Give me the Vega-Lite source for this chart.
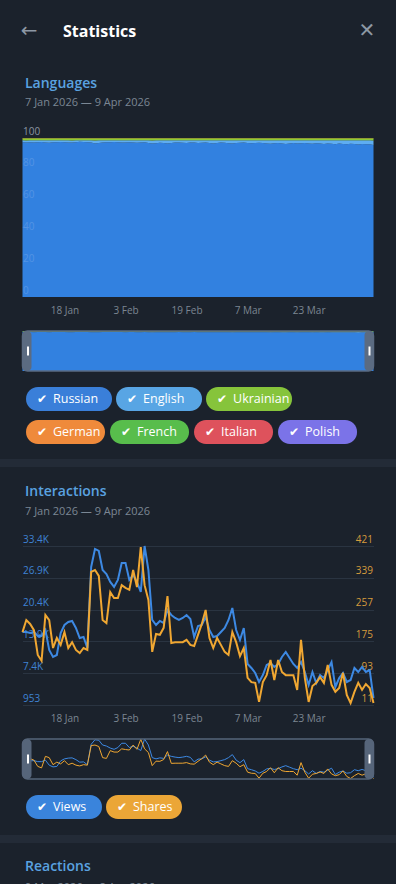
{
"$schema": "https://vega.github.io/schema/vega-lite/v6.json",
"background": "#1b222c",
"padding": 0,
"spacing": 0,
"bounds": "flush",
"center": true,
"resolve": {"scale": {"color": "independent"}},
"config": {"view": {"stroke": null}, "font": "Open Sans"},
"datasets": {
"langorder": [{"lang":"Russian","rank":1},{"lang":"English","rank":2},{"lang":"Ukrainian","rank":3},{"lang":"German","rank":4},{"lang":"French","rank":5},{"lang":"Italian","rank":6},{"lang":"Polish","rank":7}],
"langs": [
{"d":"2026-01-07","Russian":97.2,"English":1.2,"Ukrainian":1.3,"German":0.04,"French":0.03,"Italian":0.02,"Polish":0.01},
{"d":"2026-01-08","Russian":97.0,"English":1.4,"Ukrainian":1.4,"German":0.04,"French":0.03,"Italian":0.02,"Polish":0.01},
{"d":"2026-01-09","Russian":97.1,"English":1.3,"Ukrainian":1.3,"German":0.04,"French":0.03,"Italian":0.02,"Polish":0.01},
{"d":"2026-01-10","Russian":96.9,"English":1.5,"Ukrainian":1.3,"German":0.04,"French":0.03,"Italian":0.02,"Polish":0.01},
{"d":"2026-01-11","Russian":97.2,"English":1.2,"Ukrainian":1.3,"German":0.04,"French":0.03,"Italian":0.02,"Polish":0.01},
{"d":"2026-01-12","Russian":97.3,"English":1.1,"Ukrainian":1.3,"German":0.04,"French":0.03,"Italian":0.02,"Polish":0.01},
{"d":"2026-01-13","Russian":97.0,"English":1.4,"Ukrainian":1.3,"German":0.04,"French":0.03,"Italian":0.02,"Polish":0.01},
{"d":"2026-01-14","Russian":96.8,"English":1.6,"Ukrainian":1.3,"German":0.04,"French":0.03,"Italian":0.02,"Polish":0.01},
{"d":"2026-01-15","Russian":97.1,"English":1.3,"Ukrainian":1.3,"German":0.04,"French":0.03,"Italian":0.02,"Polish":0.01},
{"d":"2026-01-16","Russian":97.2,"English":1.2,"Ukrainian":1.3,"German":0.04,"French":0.03,"Italian":0.02,"Polish":0.01},
{"d":"2026-01-17","Russian":97.3,"English":1.1,"Ukrainian":1.3,"German":0.04,"French":0.03,"Italian":0.02,"Polish":0.01},
{"d":"2026-01-18","Russian":97.1,"English":1.3,"Ukrainian":1.3,"German":0.04,"French":0.03,"Italian":0.02,"Polish":0.01},
{"d":"2026-01-19","Russian":96.9,"English":1.5,"Ukrainian":1.3,"German":0.04,"French":0.03,"Italian":0.02,"Polish":0.01},
{"d":"2026-01-20","Russian":97.0,"English":1.4,"Ukrainian":1.4,"German":0.04,"French":0.03,"Italian":0.02,"Polish":0.01},
{"d":"2026-01-21","Russian":97.2,"English":1.2,"Ukrainian":1.3,"German":0.04,"French":0.03,"Italian":0.02,"Polish":0.01},
{"d":"2026-01-22","Russian":97.4,"English":1.0,"Ukrainian":1.3,"German":0.04,"French":0.03,"Italian":0.02,"Polish":0.01},
{"d":"2026-01-23","Russian":97.3,"English":1.1,"Ukrainian":1.3,"German":0.04,"French":0.03,"Italian":0.02,"Polish":0.01},
{"d":"2026-01-24","Russian":97.1,"English":1.3,"Ukrainian":1.3,"German":0.04,"French":0.03,"Italian":0.02,"Polish":0.01},
{"d":"2026-01-25","Russian":96.9,"English":1.5,"Ukrainian":1.3,"German":0.04,"French":0.03,"Italian":0.02,"Polish":0.01},
{"d":"2026-01-26","Russian":96.4,"English":1.9,"Ukrainian":1.4,"German":0.04,"French":0.03,"Italian":0.02,"Polish":0.01},
{"d":"2026-01-27","Russian":96.6,"English":1.8,"Ukrainian":1.3,"German":0.04,"French":0.03,"Italian":0.02,"Polish":0.01},
{"d":"2026-01-28","Russian":97.0,"English":1.4,"Ukrainian":1.3,"German":0.04,"French":0.03,"Italian":0.02,"Polish":0.01},
{"d":"2026-01-29","Russian":97.2,"English":1.2,"Ukrainian":1.3,"German":0.04,"French":0.03,"Italian":0.02,"Polish":0.01},
{"d":"2026-01-30","Russian":97.1,"English":1.3,"Ukrainian":1.3,"German":0.04,"French":0.03,"Italian":0.02,"Polish":0.01},
{"d":"2026-01-31","Russian":97.3,"English":1.1,"Ukrainian":1.3,"German":0.04,"French":0.03,"Italian":0.02,"Polish":0.01},
{"d":"2026-02-01","Russian":97.2,"English":1.2,"Ukrainian":1.3,"German":0.04,"French":0.03,"Italian":0.02,"Polish":0.01},
{"d":"2026-02-02","Russian":97.0,"English":1.4,"Ukrainian":1.3,"German":0.04,"French":0.03,"Italian":0.02,"Polish":0.01},
{"d":"2026-02-03","Russian":96.9,"English":1.5,"Ukrainian":1.3,"German":0.04,"French":0.03,"Italian":0.02,"Polish":0.01},
{"d":"2026-02-04","Russian":97.1,"English":1.3,"Ukrainian":1.3,"German":0.04,"French":0.03,"Italian":0.02,"Polish":0.01},
{"d":"2026-02-05","Russian":97.0,"English":1.4,"Ukrainian":1.3,"German":0.04,"French":0.03,"Italian":0.02,"Polish":0.01},
{"d":"2026-02-06","Russian":96.8,"English":1.6,"Ukrainian":1.3,"German":0.04,"French":0.03,"Italian":0.02,"Polish":0.01},
{"d":"2026-02-07","Russian":96.9,"English":1.5,"Ukrainian":1.3,"German":0.04,"French":0.03,"Italian":0.02,"Polish":0.01},
{"d":"2026-02-08","Russian":97.1,"English":1.3,"Ukrainian":1.3,"German":0.04,"French":0.03,"Italian":0.02,"Polish":0.01},
{"d":"2026-02-09","Russian":96.6,"English":1.8,"Ukrainian":1.3,"German":0.04,"French":0.03,"Italian":0.02,"Polish":0.01},
{"d":"2026-02-10","Russian":96.3,"English":2.0,"Ukrainian":1.4,"German":0.04,"French":0.03,"Italian":0.02,"Polish":0.01},
{"d":"2026-02-11","Russian":96.5,"English":1.9,"Ukrainian":1.3,"German":0.04,"French":0.03,"Italian":0.02,"Polish":0.01},
{"d":"2026-02-12","Russian":96.8,"English":1.6,"Ukrainian":1.3,"German":0.04,"French":0.03,"Italian":0.02,"Polish":0.01},
{"d":"2026-02-13","Russian":96.7,"English":1.7,"Ukrainian":1.3,"German":0.04,"French":0.03,"Italian":0.02,"Polish":0.01},
{"d":"2026-02-14","Russian":96.4,"English":2.0,"Ukrainian":1.3,"German":0.04,"French":0.03,"Italian":0.02,"Polish":0.01},
{"d":"2026-02-15","Russian":96.6,"English":1.8,"Ukrainian":1.3,"German":0.04,"French":0.03,"Italian":0.02,"Polish":0.01},
{"d":"2026-02-16","Russian":96.9,"English":1.5,"Ukrainian":1.3,"German":0.04,"French":0.03,"Italian":0.02,"Polish":0.01},
{"d":"2026-02-17","Russian":97.0,"English":1.4,"Ukrainian":1.3,"German":0.04,"French":0.03,"Italian":0.02,"Polish":0.01},
{"d":"2026-02-18","Russian":96.8,"English":1.6,"Ukrainian":1.3,"German":0.04,"French":0.03,"Italian":0.02,"Polish":0.01},
{"d":"2026-02-19","Russian":96.7,"English":1.7,"Ukrainian":1.3,"German":0.04,"French":0.03,"Italian":0.02,"Polish":0.01},
{"d":"2026-02-20","Russian":96.9,"English":1.5,"Ukrainian":1.3,"German":0.04,"French":0.03,"Italian":0.02,"Polish":0.01},
{"d":"2026-02-21","Russian":97.0,"English":1.4,"Ukrainian":1.3,"German":0.04,"French":0.03,"Italian":0.02,"Polish":0.01},
{"d":"2026-02-22","Russian":96.6,"English":1.8,"Ukrainian":1.3,"German":0.04,"French":0.03,"Italian":0.02,"Polish":0.01},
{"d":"2026-02-23","Russian":96.8,"English":1.6,"Ukrainian":1.3,"German":0.04,"French":0.03,"Italian":0.02,"Polish":0.01},
{"d":"2026-02-24","Russian":96.9,"English":1.5,"Ukrainian":1.3,"German":0.04,"French":0.03,"Italian":0.02,"Polish":0.01},
{"d":"2026-02-25","Russian":96.6,"English":1.8,"Ukrainian":1.3,"German":0.04,"French":0.03,"Italian":0.02,"Polish":0.01},
{"d":"2026-02-26","Russian":96.4,"English":2.0,"Ukrainian":1.3,"German":0.04,"French":0.03,"Italian":0.02,"Polish":0.01},
{"d":"2026-02-27","Russian":96.7,"English":1.7,"Ukrainian":1.3,"German":0.04,"French":0.03,"Italian":0.02,"Polish":0.01},
{"d":"2026-02-28","Russian":96.9,"English":1.5,"Ukrainian":1.3,"German":0.04,"French":0.03,"Italian":0.02,"Polish":0.01},
{"d":"2026-03-01","Russian":96.8,"English":1.6,"Ukrainian":1.3,"German":0.04,"French":0.03,"Italian":0.02,"Polish":0.01},
{"d":"2026-03-02","Russian":96.5,"English":1.9,"Ukrainian":1.3,"German":0.04,"French":0.03,"Italian":0.02,"Polish":0.01},
{"d":"2026-03-03","Russian":96.3,"English":2.1,"Ukrainian":1.3,"German":0.04,"French":0.03,"Italian":0.02,"Polish":0.01},
{"d":"2026-03-04","Russian":96.6,"English":1.8,"Ukrainian":1.3,"German":0.04,"French":0.03,"Italian":0.02,"Polish":0.01},
{"d":"2026-03-05","Russian":96.8,"English":1.6,"Ukrainian":1.3,"German":0.04,"French":0.03,"Italian":0.02,"Polish":0.01},
{"d":"2026-03-06","Russian":96.9,"English":1.5,"Ukrainian":1.3,"German":0.04,"French":0.03,"Italian":0.02,"Polish":0.01},
{"d":"2026-03-07","Russian":96.6,"English":1.8,"Ukrainian":1.3,"German":0.04,"French":0.03,"Italian":0.02,"Polish":0.01},
{"d":"2026-03-08","Russian":96.5,"English":1.9,"Ukrainian":1.3,"German":0.04,"French":0.03,"Italian":0.02,"Polish":0.01},
{"d":"2026-03-09","Russian":96.7,"English":1.7,"Ukrainian":1.3,"German":0.04,"French":0.03,"Italian":0.02,"Polish":0.01},
{"d":"2026-03-10","Russian":96.8,"English":1.6,"Ukrainian":1.3,"German":0.04,"French":0.03,"Italian":0.02,"Polish":0.01},
{"d":"2026-03-11","Russian":96.6,"English":1.8,"Ukrainian":1.3,"German":0.04,"French":0.03,"Italian":0.02,"Polish":0.01},
{"d":"2026-03-12","Russian":96.4,"English":2.0,"Ukrainian":1.3,"German":0.04,"French":0.03,"Italian":0.02,"Polish":0.01},
{"d":"2026-03-13","Russian":96.2,"English":2.2,"Ukrainian":1.3,"German":0.04,"French":0.03,"Italian":0.02,"Polish":0.01},
{"d":"2026-03-14","Russian":96.5,"English":1.9,"Ukrainian":1.3,"German":0.04,"French":0.03,"Italian":0.02,"Polish":0.01},
{"d":"2026-03-15","Russian":96.7,"English":1.7,"Ukrainian":1.3,"German":0.04,"French":0.03,"Italian":0.02,"Polish":0.01},
{"d":"2026-03-16","Russian":96.3,"English":2.1,"Ukrainian":1.3,"German":0.04,"French":0.03,"Italian":0.02,"Polish":0.01},
{"d":"2026-03-17","Russian":96.1,"English":2.3,"Ukrainian":1.3,"German":0.04,"French":0.03,"Italian":0.02,"Polish":0.01},
{"d":"2026-03-18","Russian":96.4,"English":2.0,"Ukrainian":1.3,"German":0.04,"French":0.03,"Italian":0.02,"Polish":0.01},
{"d":"2026-03-19","Russian":96.6,"English":1.8,"Ukrainian":1.3,"German":0.04,"French":0.03,"Italian":0.02,"Polish":0.01},
{"d":"2026-03-20","Russian":96.3,"English":2.1,"Ukrainian":1.3,"German":0.04,"French":0.03,"Italian":0.02,"Polish":0.01},
{"d":"2026-03-21","Russian":96.5,"English":1.9,"Ukrainian":1.3,"German":0.04,"French":0.03,"Italian":0.02,"Polish":0.01},
{"d":"2026-03-22","Russian":96.7,"English":1.7,"Ukrainian":1.3,"German":0.04,"French":0.03,"Italian":0.02,"Polish":0.01},
{"d":"2026-03-23","Russian":96.4,"English":2.0,"Ukrainian":1.3,"German":0.04,"French":0.03,"Italian":0.02,"Polish":0.01},
{"d":"2026-03-24","Russian":96.2,"English":2.2,"Ukrainian":1.3,"German":0.04,"French":0.03,"Italian":0.02,"Polish":0.01},
{"d":"2026-03-25","Russian":96.5,"English":1.9,"Ukrainian":1.3,"German":0.04,"French":0.03,"Italian":0.02,"Polish":0.01},
{"d":"2026-03-26","Russian":96.3,"English":2.1,"Ukrainian":1.3,"German":0.04,"French":0.03,"Italian":0.02,"Polish":0.01},
{"d":"2026-03-27","Russian":96.0,"English":2.4,"Ukrainian":1.3,"German":0.04,"French":0.03,"Italian":0.02,"Polish":0.01},
{"d":"2026-03-28","Russian":96.4,"English":2.0,"Ukrainian":1.3,"German":0.04,"French":0.03,"Italian":0.02,"Polish":0.01},
{"d":"2026-03-29","Russian":96.2,"English":2.2,"Ukrainian":1.3,"German":0.04,"French":0.03,"Italian":0.02,"Polish":0.01},
{"d":"2026-03-30","Russian":95.9,"English":2.5,"Ukrainian":1.3,"German":0.04,"French":0.03,"Italian":0.02,"Polish":0.01},
{"d":"2026-03-31","Russian":96.3,"English":2.1,"Ukrainian":1.3,"German":0.04,"French":0.03,"Italian":0.02,"Polish":0.01},
{"d":"2026-04-01","Russian":96.1,"English":2.3,"Ukrainian":1.3,"German":0.04,"French":0.03,"Italian":0.02,"Polish":0.01},
{"d":"2026-04-02","Russian":95.8,"English":2.6,"Ukrainian":1.3,"German":0.04,"French":0.03,"Italian":0.02,"Polish":0.01},
{"d":"2026-04-03","Russian":96.2,"English":2.2,"Ukrainian":1.3,"German":0.04,"French":0.03,"Italian":0.02,"Polish":0.01},
{"d":"2026-04-04","Russian":96.0,"English":2.4,"Ukrainian":1.3,"German":0.04,"French":0.03,"Italian":0.02,"Polish":0.01},
{"d":"2026-04-05","Russian":95.7,"English":2.7,"Ukrainian":1.3,"German":0.04,"French":0.03,"Italian":0.02,"Polish":0.01},
{"d":"2026-04-06","Russian":96.1,"English":2.3,"Ukrainian":1.3,"German":0.04,"French":0.03,"Italian":0.02,"Polish":0.01},
{"d":"2026-04-07","Russian":95.9,"English":2.5,"Ukrainian":1.3,"German":0.04,"French":0.03,"Italian":0.02,"Polish":0.01},
{"d":"2026-04-08","Russian":95.8,"English":2.6,"Ukrainian":1.3,"German":0.04,"French":0.03,"Italian":0.02,"Polish":0.01},
{"d":"2026-04-09","Russian":95.4,"English":2.9,"Ukrainian":1.4,"German":0.04,"French":0.03,"Italian":0.02,"Polish":0.01}
],
"inter": [
{"d":"2026-01-07","views":15852,"shares":199},
{"d":"2026-01-08","views":15852,"shares":230},
{"d":"2026-01-09","views":15648,"shares":220},
{"d":"2026-01-10","views":15852,"shares":204},
{"d":"2026-01-11","views":15036,"shares":140},
{"d":"2026-01-12","views":15036,"shares":125},
{"d":"2026-01-13","views":16261,"shares":243},
{"d":"2026-01-14","views":12180,"shares":230},
{"d":"2026-01-15","views":10750,"shares":158},
{"d":"2026-01-16","views":11158,"shares":184},
{"d":"2026-01-17","views":15648,"shares":166},
{"d":"2026-01-18","views":17281,"shares":199},
{"d":"2026-01-19","views":17893,"shares":158},
{"d":"2026-01-20","views":18097,"shares":173},
{"d":"2026-01-21","views":16669,"shares":153},
{"d":"2026-01-22","views":14628,"shares":145},
{"d":"2026-01-23","views":14832,"shares":158},
{"d":"2026-01-24","views":12587,"shares":153},
{"d":"2026-01-25","views":29119,"shares":354},
{"d":"2026-01-26","views":32793,"shares":359},
{"d":"2026-01-27","views":32384,"shares":344},
{"d":"2026-01-28","views":28507,"shares":230},
{"d":"2026-01-29","views":27690,"shares":222},
{"d":"2026-01-30","views":26057,"shares":302},
{"d":"2026-01-31","views":25037,"shares":287},
{"d":"2026-02-01","views":26466,"shares":287},
{"d":"2026-02-02","views":29935,"shares":320},
{"d":"2026-02-03","views":29935,"shares":313},
{"d":"2026-02-04","views":26466,"shares":308},
{"d":"2026-02-05","views":27486,"shares":359},
{"d":"2026-02-06","views":26057,"shares":315},
{"d":"2026-02-07","views":24016,"shares":418},
{"d":"2026-02-08","views":33398,"shares":320},
{"d":"2026-02-09","views":28507,"shares":282},
{"d":"2026-02-10","views":18302,"shares":148},
{"d":"2026-02-11","views":17281,"shares":194},
{"d":"2026-02-12","views":18097,"shares":192},
{"d":"2026-02-13","views":17689,"shares":210},
{"d":"2026-02-14","views":20343,"shares":292},
{"d":"2026-02-15","views":19322,"shares":171},
{"d":"2026-02-16","views":18710,"shares":173},
{"d":"2026-02-17","views":18302,"shares":173},
{"d":"2026-02-18","views":18710,"shares":173},
{"d":"2026-02-19","views":19322,"shares":179},
{"d":"2026-02-20","views":18506,"shares":166},
{"d":"2026-02-21","views":14832,"shares":163},
{"d":"2026-02-22","views":17077,"shares":192},
{"d":"2026-02-23","views":17281,"shares":220},
{"d":"2026-02-24","views":18914,"shares":256},
{"d":"2026-02-25","views":16261,"shares":184},
{"d":"2026-02-26","views":14832,"shares":158},
{"d":"2026-02-27","views":15036,"shares":184},
{"d":"2026-02-28","views":15852,"shares":166},
{"d":"2026-03-01","views":16669,"shares":148},
{"d":"2026-03-02","views":18302,"shares":140},
{"d":"2026-03-03","views":20751,"shares":199},
{"d":"2026-03-04","views":16261,"shares":173},
{"d":"2026-03-05","views":14220,"shares":137},
{"d":"2026-03-06","views":16669,"shares":158},
{"d":"2026-03-07","views":9321,"shares":81},
{"d":"2026-03-08","views":8505,"shares":70},
{"d":"2026-03-09","views":7484,"shares":68},
{"d":"2026-03-10","views":5647,"shares":19},
{"d":"2026-03-11","views":7076,"shares":70},
{"d":"2026-03-12","views":9117,"shares":88},
{"d":"2026-03-13","views":9525,"shares":127},
{"d":"2026-03-14","views":8709,"shares":75},
{"d":"2026-03-15","views":9321,"shares":127},
{"d":"2026-03-16","views":10750,"shares":96},
{"d":"2026-03-17","views":11770,"shares":88},
{"d":"2026-03-18","views":10546,"shares":88},
{"d":"2026-03-19","views":9321,"shares":88},
{"d":"2026-03-20","views":8505,"shares":50},
{"d":"2026-03-21","views":9729,"shares":179},
{"d":"2026-03-22","views":7688,"shares":81},
{"d":"2026-03-23","views":5035,"shares":19},
{"d":"2026-03-24","views":7688,"shares":60},
{"d":"2026-03-25","views":5443,"shares":68},
{"d":"2026-03-26","views":7076,"shares":83},
{"d":"2026-03-27","views":6464,"shares":68},
{"d":"2026-03-28","views":8097,"shares":114},
{"d":"2026-03-29","views":9729,"shares":63},
{"d":"2026-03-30","views":4627,"shares":45},
{"d":"2026-03-31","views":6464,"shares":55},
{"d":"2026-04-01","views":7484,"shares":94},
{"d":"2026-04-02","views":5647,"shares":37},
{"d":"2026-04-03","views":6056,"shares":16},
{"d":"2026-04-04","views":8505,"shares":45},
{"d":"2026-04-05","views":7688,"shares":68},
{"d":"2026-04-06","views":8709,"shares":50},
{"d":"2026-04-07","views":7688,"shares":65},
{"d":"2026-04-08","views":8097,"shares":55},
{"d":"2026-04-09","views":2382,"shares":16}
]
},
"vconcat": [
{"width": 396, "height": 62,
 "title": {"text": "Statistics", "anchor": "start", "frame": "group", "dx": 63, "offset": -40, "fontSize": 16, "fontWeight": "bold", "color": "#ffffff"},
 "data": {"values": [{"icon": "back", "glyph": "←"}, {"icon": "close", "glyph": "✕"}]},
 "mark": {"type": "text", "color": "#8d98a4", "fontSize": 20, "font": "DejaVu Sans"},
 "encoding": {"x": {"field": "icon", "type": "nominal", "scale": {"type": "point", "domain": ["back", "close"], "padding": 0.0858}, "axis": null}, "text": {"field": "glyph"}}},
{"width": 351, "height": 76,
 "title": {"text": "Languages", "subtitle": "7 Jan 2026 — 9 Apr 2026", "anchor": "start", "frame": "group", "dx": 2.5, "offset": -46, "fontSize": 14, "fontWeight": 600, "color": "#5aa2e0", "subtitleFontSize": 11, "subtitleColor": "#7b8794", "subtitlePadding": 6},
 "data": {"values": []}, "mark": "rule", "encoding": {}},
{"width": 351, "height": 159,
 "data": {"name": "langs"},
 "transform": [{"fold": ["Russian", "English", "Ukrainian", "German", "French", "Italian", "Polish"], "as": ["lang", "share"]},
               {"lookup": "lang", "from": {"data": {"name": "langorder"}, "key": "lang", "fields": ["rank"]}}],
 "mark": {"type": "area"},
 "encoding": {
  "x": {"field": "d", "type": "temporal", "scale": {"type": "utc", "nice": false, "domain": [{"year": 2026, "month": 1, "date": 7, "utc": true}, {"year": 2026, "month": 4, "date": 9, "utc": true}]},
        "axis": {"values": [{"year": 2026, "month": 1, "date": 18, "utc": true}, {"year": 2026, "month": 2, "date": 3, "utc": true}, {"year": 2026, "month": 2, "date": 19, "utc": true}, {"year": 2026, "month": 3, "date": 7, "utc": true}, {"year": 2026, "month": 3, "date": 23, "utc": true}], "format": "%-d %b", "domain": false, "ticks": false, "grid": false, "labelPadding": 8, "labelColor": "#7b8692", "labelFontSize": 10, "title": null, "labelFlush": false}},
  "y": {"field": "share", "type": "quantitative", "stack": "normalize", "scale": {"domain": [0, 1], "nice": false},
        "axis": {"values": [0, 0.2, 0.4, 0.6, 0.8, 1], "labelExpr": "format(datum.value*100,'d')", "domain": false, "ticks": false, "grid": false, "labelAlign": "left", "labelPadding": 0, "labelBaseline": "alphabetic", "labelOffset": -4, "labelFontSize": 10, "labelColor": {"condition": {"test": "datum.value > 0.99", "value": "#8a95a1"}, "value": "#5294e4"}, "title": null, "zindex": 1, "labelFlush": false}},
  "order": {"field": "rank", "type": "quantitative"},
  "color": {"field": "lang", "type": "nominal", "scale": {"domain": ["Russian", "English", "Ukrainian", "German", "French", "Italian", "Polish"], "range": ["#3281e0", "#5eadf2", "#8ccb35", "#f28c38", "#5cc24d", "#e2525c", "#7e72ec"]}, "legend": null}
 }},
{"width": 1, "height": 34, "data": {"values": []}, "mark": "rule", "encoding": {}},
{"width": 351, "height": 40,
 "layer": [
  {"data": {"name": "langs"},
   "transform": [{"fold": ["Russian", "English", "Ukrainian", "German", "French", "Italian", "Polish"], "as": ["lang", "share"]},
                 {"lookup": "lang", "from": {"data": {"name": "langorder"}, "key": "lang", "fields": ["rank"]}}],
   "mark": {"type": "area"},
   "encoding": {
    "x": {"field": "d", "type": "temporal", "scale": {"type": "utc", "nice": false, "domain": [{"year": 2026, "month": 1, "date": 7, "utc": true}, {"year": 2026, "month": 4, "date": 9, "utc": true}]}, "axis": null},
    "y": {"field": "share", "type": "quantitative", "stack": "normalize", "scale": {"domain": [0, 1], "nice": false}, "axis": null},
    "order": {"field": "rank", "type": "quantitative"},
    "color": {"field": "lang", "type": "nominal", "scale": {"domain": ["Russian", "English", "Ukrainian", "German", "French", "Italian", "Polish"], "range": ["#3281e0", "#5eadf2", "#8ccb35", "#f28c38", "#5cc24d", "#e2525c", "#7e72ec"]}, "legend": null}}},
  {"data": {"values": [{"from": "2026-01-07", "to": "2026-04-09"}]},
   "mark": {"type": "rect", "fillOpacity": 0, "stroke": "#5b6b81", "strokeWidth": 1.5, "cornerRadius": 5},
   "encoding": {"x": {"field": "from", "type": "temporal"}, "x2": {"field": "to"}}},
  {"data": {"values": [{"from": "2026-01-07", "to": "2026-04-09"}]},
   "mark": {"type": "tick", "color": "#5b6b81", "thickness": 9, "size": 40, "xOffset": 4.5, "cornerRadius": 4, "opacity": 1},
   "encoding": {"x": {"field": "from", "type": "temporal"}}},
  {"data": {"values": [{"from": "2026-01-07", "to": "2026-04-09"}]},
   "mark": {"type": "tick", "color": "#5b6b81", "thickness": 9, "size": 40, "xOffset": -4.5, "cornerRadius": 4, "opacity": 1},
   "encoding": {"x": {"field": "to", "type": "temporal"}}},
  {"data": {"values": [{"from": "2026-01-07", "to": "2026-04-09"}]},
   "mark": {"type": "tick", "color": "#ffffff", "thickness": 2, "size": 9, "xOffset": 5.5, "opacity": 1},
   "encoding": {"x": {"field": "from", "type": "temporal"}}},
  {"data": {"values": [{"from": "2026-01-07", "to": "2026-04-09"}]},
   "mark": {"type": "tick", "color": "#ffffff", "thickness": 2, "size": 9, "xOffset": -4, "opacity": 1},
   "encoding": {"x": {"field": "to", "type": "temporal"}}}
 ]},
{"width": 1, "height": 16, "data": {"values": []}, "mark": "rule", "encoding": {}},
{"width": 344, "height": 24,
 "data": {"values": [{"lang": "Russian"}, {"lang": "English"}, {"lang": "Ukrainian"}]},
 "layer": [
  {"mark": {"type": "rect", "cornerRadius": 12},
   "encoding": {"x": {"field": "lang", "type": "nominal", "scale": {"type": "band", "domain": ["Russian", "English", "Ukrainian"], "paddingInner": 0.0444, "paddingOuter": 0.433, "align": 0}, "axis": null},
                "color": {"field": "lang", "type": "nominal", "scale": {"domain": ["Russian", "English", "Ukrainian", "German", "French", "Italian", "Polish"], "range": ["#3a7fd9", "#58a5e4", "#86c43b", "#ef8a3b", "#58bd4c", "#de525c", "#7b73e8"]}, "legend": null}}},
  {"mark": {"type": "text", "text": "✔", "align": "left", "dx": 11, "fontSize": 12, "color": "#ffffff", "font": "DejaVu Sans"},
   "encoding": {"x": {"field": "lang", "type": "nominal", "bandPosition": 0, "scale": {"type": "band", "domain": ["Russian", "English", "Ukrainian"], "paddingInner": 0.0444, "paddingOuter": 0.433, "align": 0}, "axis": null}}},
  {"mark": {"type": "text", "align": "left", "dx": 27, "fontSize": 12.5, "color": "#ffffff"},
   "encoding": {"x": {"field": "lang", "type": "nominal", "bandPosition": 0, "scale": {"type": "band", "domain": ["Russian", "English", "Ukrainian"], "paddingInner": 0.0444, "paddingOuter": 0.433, "align": 0}, "axis": null}, "text": {"field": "lang"}}}
 ]},
{"width": 1, "height": 9, "data": {"values": []}, "mark": "rule", "encoding": {}},
{"width": 344, "height": 24,
 "data": {"values": [{"lang": "German"}, {"lang": "French"}, {"lang": "Italian"}, {"lang": "Polish"}]},
 "layer": [
  {"mark": {"type": "rect", "cornerRadius": 12},
   "encoding": {"x": {"field": "lang", "type": "nominal", "scale": {"type": "band", "domain": ["German", "French", "Italian", "Polish"], "paddingInner": 0.0595, "paddingOuter": 0.077, "align": 0}, "axis": null},
                "color": {"field": "lang", "type": "nominal", "scale": {"domain": ["Russian", "English", "Ukrainian", "German", "French", "Italian", "Polish"], "range": ["#3a7fd9", "#58a5e4", "#86c43b", "#ef8a3b", "#58bd4c", "#de525c", "#7b73e8"]}, "legend": null}}},
  {"mark": {"type": "text", "text": "✔", "align": "left", "dx": 11, "fontSize": 12, "color": "#ffffff", "font": "DejaVu Sans"},
   "encoding": {"x": {"field": "lang", "type": "nominal", "bandPosition": 0, "scale": {"type": "band", "domain": ["German", "French", "Italian", "Polish"], "paddingInner": 0.0595, "paddingOuter": 0.077, "align": 0}, "axis": null}}},
  {"mark": {"type": "text", "align": "left", "dx": 27, "fontSize": 12.5, "color": "#ffffff"},
   "encoding": {"x": {"field": "lang", "type": "nominal", "bandPosition": 0, "scale": {"type": "band", "domain": ["German", "French", "Italian", "Polish"], "paddingInner": 0.0595, "paddingOuter": 0.077, "align": 0}, "axis": null}, "text": {"field": "lang"}}}
 ]},
{"width": 1, "height": 15, "data": {"values": []}, "mark": "rule", "encoding": {}},
{"width": 396, "height": 8, "view": {"fill": "#232b37", "stroke": null}, "data": {"values": []}, "mark": "rule", "encoding": {}},
{"width": 351, "height": 79,
 "title": {"text": "Interactions", "subtitle": "7 Jan 2026 — 9 Apr 2026", "anchor": "start", "frame": "group", "dx": 2.5, "offset": -50, "fontSize": 14, "fontWeight": 600, "color": "#5aa2e0", "subtitleFontSize": 11, "subtitleColor": "#7b8794", "subtitlePadding": 7},
 "data": {"values": []}, "mark": "rule", "encoding": {}},
{"width": 351, "height": 159,
 "data": {"name": "inter"},
 "layer": [
  {"mark": {"type": "line", "color": "#3d89e3", "strokeWidth": 2},
   "encoding": {
    "x": {"field": "d", "type": "temporal", "scale": {"type": "utc", "nice": false, "domain": [{"year": 2026, "month": 1, "date": 7, "utc": true}, {"year": 2026, "month": 4, "date": 9, "utc": true}]},
          "axis": {"values": [{"year": 2026, "month": 1, "date": 18, "utc": true}, {"year": 2026, "month": 2, "date": 3, "utc": true}, {"year": 2026, "month": 2, "date": 19, "utc": true}, {"year": 2026, "month": 3, "date": 7, "utc": true}, {"year": 2026, "month": 3, "date": 23, "utc": true}], "format": "%-d %b", "domain": false, "ticks": false, "grid": false, "labelPadding": 8, "labelColor": "#7b8692", "labelFontSize": 10, "title": null, "labelFlush": false}},
    "y": {"field": "views", "type": "quantitative", "scale": {"domain": [953, 33398], "nice": false, "zero": false},
          "axis": {"orient": "left", "values": [953, 7442, 13931, 20420, 26909, 33398], "labelExpr": "datum.value < 1000 ? format(datum.value,'d') : format(datum.value/1000,'.1f') + 'K'", "domain": false, "ticks": false, "grid": true, "gridColor": "#2a3441", "gridWidth": 1, "labelAlign": "left", "labelPadding": 0, "labelBaseline": "alphabetic", "labelOffset": -4, "labelFontSize": 10, "labelColor": "#3f82d4", "title": null, "labelFlush": false}}}},
  {"mark": {"type": "line", "color": "#f0a732", "strokeWidth": 2},
   "encoding": {
    "x": {"field": "d", "type": "temporal", "scale": {"type": "utc", "nice": false, "domain": [{"year": 2026, "month": 1, "date": 7, "utc": true}, {"year": 2026, "month": 4, "date": 9, "utc": true}]},
          "axis": {"values": [{"year": 2026, "month": 1, "date": 18, "utc": true}, {"year": 2026, "month": 2, "date": 3, "utc": true}, {"year": 2026, "month": 2, "date": 19, "utc": true}, {"year": 2026, "month": 3, "date": 7, "utc": true}, {"year": 2026, "month": 3, "date": 23, "utc": true}], "format": "%-d %b", "domain": false, "ticks": false, "grid": false, "labelPadding": 8, "labelColor": "#7b8692", "labelFontSize": 10, "title": null, "labelFlush": false}},
    "y": {"field": "shares", "type": "quantitative", "scale": {"domain": [11, 421], "nice": false, "zero": false},
          "axis": {"orient": "right", "values": [11, 93, 175, 257, 339, 421], "domain": false, "ticks": false, "grid": false, "labelAlign": "right", "labelPadding": -1, "labelBaseline": "alphabetic", "labelOffset": -4, "labelFontSize": 10, "labelColor": "#d69c3c", "title": null, "labelFlush": false}}}}
 ],
 "resolve": {"scale": {"y": "independent"}}},
{"width": 1, "height": 34, "data": {"values": []}, "mark": "rule", "encoding": {}},
{"width": 351, "height": 40,
 "layer": [
  {"data": {"name": "inter"}, "mark": {"type": "line", "color": "#3d89e3", "strokeWidth": 1},
   "encoding": {"x": {"field": "d", "type": "temporal", "scale": {"type": "utc", "nice": false, "domain": [{"year": 2026, "month": 1, "date": 7, "utc": true}, {"year": 2026, "month": 4, "date": 9, "utc": true}]}, "axis": null},
                "y": {"field": "views", "type": "quantitative", "scale": {"domain": [953, 33398], "nice": false, "zero": false}, "axis": null}}},
  {"data": {"name": "inter"}, "mark": {"type": "line", "color": "#f0a732", "strokeWidth": 1},
   "encoding": {"x": {"field": "d", "type": "temporal", "axis": null},
                "y": {"field": "shares", "type": "quantitative", "scale": {"domain": [11, 421], "nice": false, "zero": false}, "axis": null}}},
  {"data": {"values": [{"from": "2026-01-07", "to": "2026-04-09"}]},
   "mark": {"type": "rect", "fillOpacity": 0, "stroke": "#56657a", "strokeWidth": 1.5, "cornerRadius": 5},
   "encoding": {"x": {"field": "from", "type": "temporal"}, "x2": {"field": "to"}}},
  {"data": {"values": [{"from": "2026-01-07", "to": "2026-04-09"}]},
   "mark": {"type": "tick", "color": "#56657a", "thickness": 9, "size": 40, "xOffset": 4.5, "cornerRadius": 4, "opacity": 1},
   "encoding": {"x": {"field": "from", "type": "temporal"}}},
  {"data": {"values": [{"from": "2026-01-07", "to": "2026-04-09"}]},
   "mark": {"type": "tick", "color": "#56657a", "thickness": 9, "size": 40, "xOffset": -4.5, "cornerRadius": 4, "opacity": 1},
   "encoding": {"x": {"field": "to", "type": "temporal"}}},
  {"data": {"values": [{"from": "2026-01-07", "to": "2026-04-09"}]},
   "mark": {"type": "tick", "color": "#ffffff", "thickness": 2, "size": 9, "xOffset": 5.5, "opacity": 1},
   "encoding": {"x": {"field": "from", "type": "temporal"}}},
  {"data": {"values": [{"from": "2026-01-07", "to": "2026-04-09"}]},
   "mark": {"type": "tick", "color": "#ffffff", "thickness": 2, "size": 9, "xOffset": -4, "opacity": 1},
   "encoding": {"x": {"field": "to", "type": "temporal"}}}
 ],
 "resolve": {"scale": {"y": "independent"}}},
{"width": 1, "height": 16, "data": {"values": []}, "mark": "rule", "encoding": {}},
{"width": 344, "height": 24,
 "data": {"values": [{"series": "Views"}, {"series": "Shares"}]},
 "layer": [
  {"mark": {"type": "rect", "cornerRadius": 12},
   "encoding": {"x": {"field": "series", "type": "nominal", "scale": {"type": "band", "domain": ["Views", "Shares", "_3", "_4"], "paddingInner": 0.05, "paddingOuter": 0.175, "align": 0}, "axis": null},
                "color": {"field": "series", "type": "nominal", "scale": {"domain": ["Views", "Shares"], "range": ["#3a84dc", "#eba637"]}, "legend": null}}},
  {"mark": {"type": "text", "text": "✔", "align": "left", "dx": 11, "fontSize": 12, "color": "#ffffff", "font": "DejaVu Sans"},
   "encoding": {"x": {"field": "series", "type": "nominal", "bandPosition": 0, "scale": {"type": "band", "domain": ["Views", "Shares", "_3", "_4"], "paddingInner": 0.05, "paddingOuter": 0.175, "align": 0}, "axis": null}}},
  {"mark": {"type": "text", "align": "left", "dx": 27, "fontSize": 12.5, "color": "#ffffff"},
   "encoding": {"x": {"field": "series", "type": "nominal", "bandPosition": 0, "scale": {"type": "band", "domain": ["Views", "Shares", "_3", "_4"], "paddingInner": 0.05, "paddingOuter": 0.175, "align": 0}, "axis": null}, "text": {"field": "series"}}}
 ]},
{"width": 1, "height": 16, "data": {"values": []}, "mark": "rule", "encoding": {}},
{"width": 396, "height": 8, "view": {"fill": "#232b37", "stroke": null}, "data": {"values": []}, "mark": "rule", "encoding": {}},
{"width": 351, "height": 41,
 "title": {"text": "Reactions", "subtitle": "9 Mar 2026 — 8 Apr 2026", "anchor": "start", "frame": "group", "dx": 2.5, "offset": -50, "fontSize": 14, "fontWeight": 600, "color": "#5aa2e0", "subtitleFontSize": 11, "subtitleColor": "#7b8794", "subtitlePadding": 8},
 "data": {"values": []}, "mark": "rule", "encoding": {}}
]
}
